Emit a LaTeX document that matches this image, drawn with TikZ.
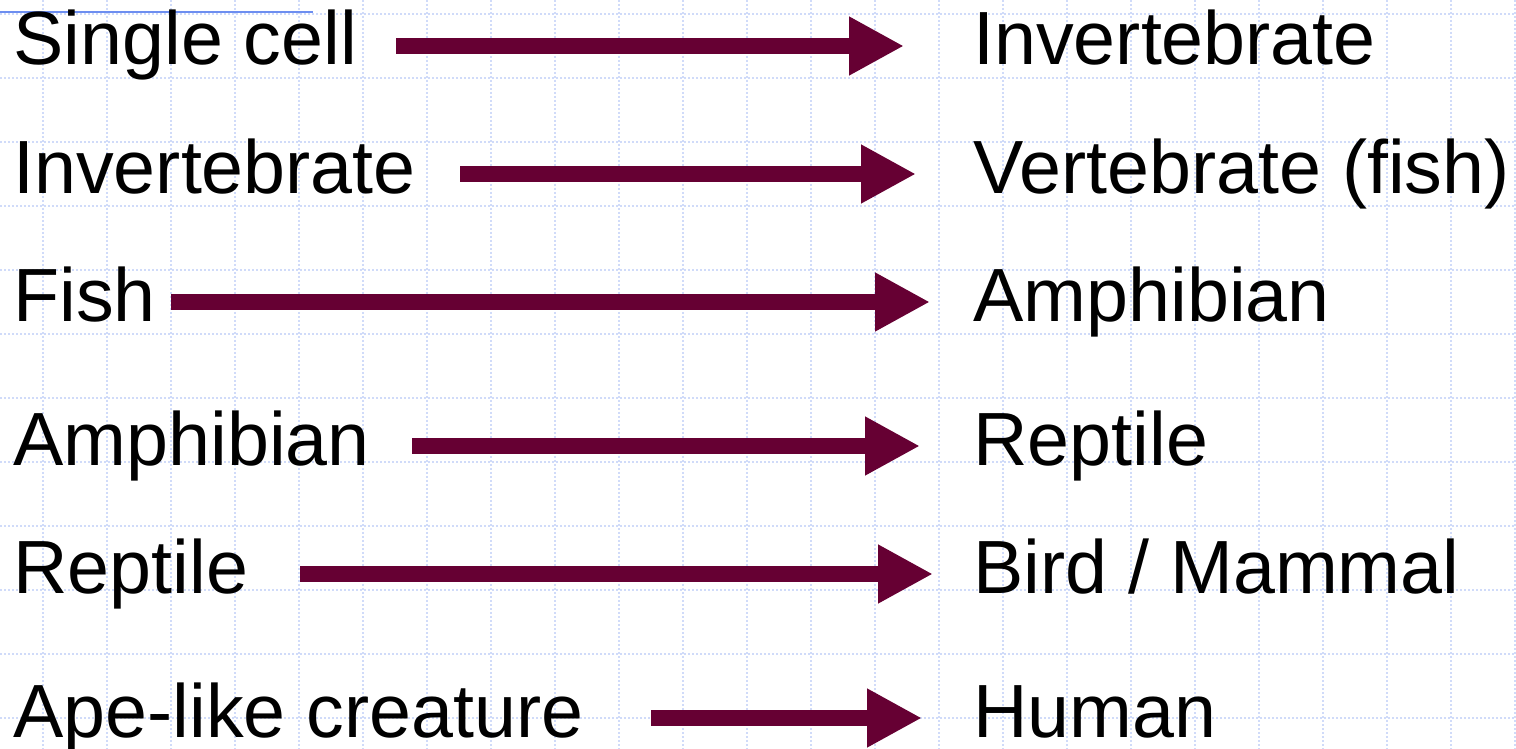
\documentclass[tikz,border=0pt]{standalone}
\usepackage{fontspec}
\setmainfont{Liberation Sans}
\usetikzlibrary{arrows.meta}

\definecolor{arrowred}{HTML}{660033}
\definecolor{gridblue}{HTML}{D0DBF9}
\definecolor{ruleblue}{HTML}{6D8EF0}

\tikzset{
  stage/.style={inner sep=0pt, anchor=base west, font=\fontsize{37.7}{45}\selectfont},
  fatarrow/.style={arrowred, line width=8pt, -{Triangle[length=27.5pt, width=27.5pt]}},
  gridline/.style={gridblue, line width=0.9pt, dash pattern=on 1.2pt off 0.8pt}
}

\begin{document}
\begin{tikzpicture}[x=0.5pt, y=-0.5pt]
                \useasboundingbox (0, 0) rectangle (1516, 749);
                % Grid
                \foreach \gx in {43, 107, ..., 1515}
                  \draw [gridline] (\gx, 0) -- (\gx, 749);
                \foreach \gy in {14, 78, ..., 718}
                  \draw [gridline] (0, \gy) -- (1516, \gy);
                \draw [ruleblue, line width=0.8pt] (0, 12) -- (313, 12);
                % Stages
                \node [stage] (from1) at (13, 65) {Single cell};
                \node [stage] (to1) at (973, 65) {Invertebrate};
                \node [stage] (from2) at (13, 193) {Invertebrate};
                \node [stage] (to2) at (973, 193) {Vertebrate (fish)};
                \node [stage] (from3) at (13, 321) {Fish};
                \node [stage] (to3) at (973, 321) {Amphibian};
                \node [stage] (from4) at (13, 465) {Amphibian};
                \node [stage] (to4) at (973, 465) {Reptile};
                \node [stage] (from5) at (13, 593) {Reptile};
                \node [stage] (to5) at (973, 593) {Bird / Mammal};
                \node [stage] (from6) at (13, 737) {Ape-like creature};
                \node [stage] (to6) at (973, 737) {Human};
                % Arrows
                \coordinate (tail1) at (396, 46);
                \coordinate (tip1) at (904, 46);
                \coordinate (tail2) at (460, 174);
                \coordinate (tip2) at (916, 174);
                \coordinate (tail3) at (171, 302);
                \coordinate (tip3) at (930, 302);
                \coordinate (tail4) at (412, 446);
                \coordinate (tip4) at (920, 446);
                \coordinate (tail5) at (300, 574);
                \coordinate (tip5) at (933, 574);
                \coordinate (tail6) at (651, 718);
                \coordinate (tip6) at (922, 718);
                \draw [fatarrow] (tail1) -- (tip1);
                \draw [fatarrow] (tail2) -- (tip2);
                \draw [fatarrow] (tail3) -- (tip3);
                \draw [fatarrow] (tail4) -- (tip4);
                \draw [fatarrow] (tail5) -- (tip5);
                \draw [fatarrow] (tail6) -- (tip6);
\end{tikzpicture}
\end{document}
